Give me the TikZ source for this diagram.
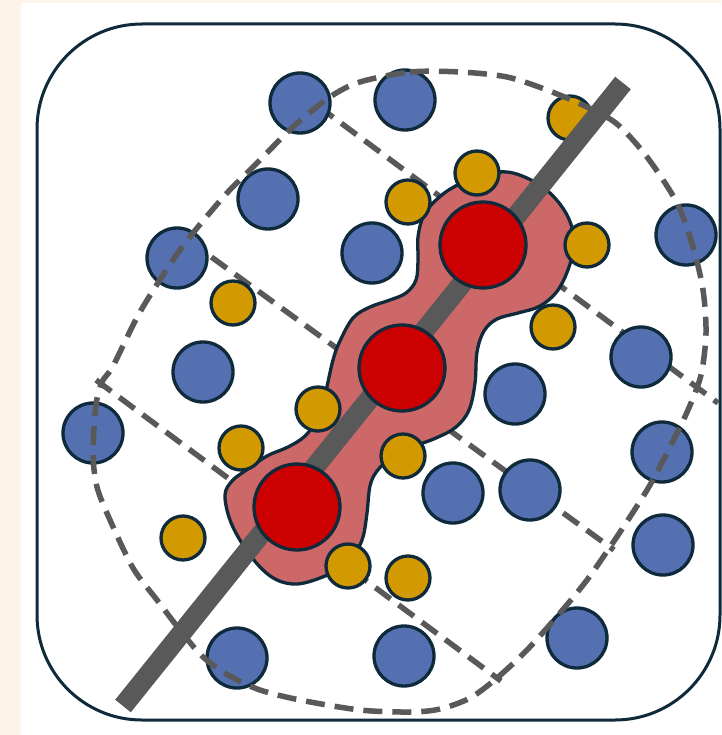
\documentclass[tikz,border=0pt]{standalone}
\usepackage{tikz}

\definecolor{cream}{HTML}{FCF4E8}
\definecolor{navy}{HTML}{0E2A3B}
\definecolor{dotblue}{HTML}{5470B0}
\definecolor{dotgold}{HTML}{D29A00}
\definecolor{dotred}{HTML}{CC0000}
\definecolor{blobred}{HTML}{CD6868}
\definecolor{axisgray}{HTML}{595959}

\begin{document}
\begin{tikzpicture}[x=1pt,y=-1pt,
        blue dot/.style={circle,draw=navy,line width=3.3pt,fill=dotblue,minimum size=60pt,inner sep=0pt},
        gold dot/.style={circle,draw=navy,line width=3.3pt,fill=dotgold,minimum size=44pt,inner sep=0pt},
        red dot/.style={circle,draw=navy,line width=3.3pt,fill=dotred,minimum size=86pt,inner sep=0pt},
        cut/.style={draw=axisgray,line width=5.5pt,dash pattern=on 19pt off 10pt}]
        \useasboundingbox (0,0) rectangle (721,735);
        \fill [cream] (0,0) rectangle (721,735);
        \fill [white] (21,3) rectangle (721,735);
        \draw [navy,line width=3pt,rounded corners=105pt] (37,24) rectangle (720,720);
        % cuts inside the region
        \draw [cut] (318,106) -- (718,403);
        \draw [cut] (188,240) -- (614,550);
        \draw [cut] (96,380) -- (501,681);
        % blob round the red dots
        \draw [navy,line width=3.3pt,fill=blobred] plot [smooth cycle,tension=0.6] coordinates {
            (433,203) (452,188) (480,176) (507,172) (533,181) (553,196) (568,217) (574,240)
            (570,264) (558,290) (540,306) (518,313) (497,319) (484,331) (477,352) (475,383)
            (469,410) (456,427) (436,438) (410,448) (390,459) (377,471) (370,486) (367,513)
            (363,537) (355,553) (340,568) (320,578) (297,584) (277,580) (260,567) (243,545)
            (230,520) (225,495) (232,481) (245,471) (267,456) (288,447) (305,436) (318,418)
            (325,395) (333,360) (340,341) (353,318) (370,307) (390,300) (406,293) (416,280)
            (418,260) (418,237) (423,217)};
        \foreach \x/\y [count=\i] in {300/103, 405/100, 268/199, 177/258, 372/253, 686/235,
            203/372, 93/433, 515/394, 641/357, 453/493, 530/490, 662/452, 663/545, 577/638,
            404/656, 237/658}
            \node [blue dot] (b\i) at (\x,\y) {};
        \foreach \x/\y [count=\i] in {570/118, 477/173, 408/202, 587/245, 553/327, 233/303,
            318/409, 241/448, 183/538, 403/456, 348/566, 408/578}
            \node [gold dot] (g\i) at (\x,\y) {};
        % outer boundary
        \draw [cut] plot [smooth cycle,tension=0.5] coordinates {
            (360,82) (410,72) (460,72) (507,77) (547,90) (587,107) (617,124) (647,157)
            (677,203) (693,247) (703,290) (706,333) (701,375) (688,410) (670,447) (650,485)
            (628,520) (610,547) (587,580) (560,613) (527,650) (497,678) (470,698) (440,709)
            (410,712) (360,710) (300,700) (260,690) (230,676) (203,657) (180,630) (157,600)
            (133,568) (110,520) (97,487) (93,453) (96,405) (102,382) (113,366) (140,312)
            (173,260) (193,233) (227,193) (253,167) (293,127) (330,97)};
        \coordinate (axis top) at (623,83);
        \coordinate (axis end) at (123,706);
        \draw [axisgray,line width=20pt] (axis top) -- (axis end);
        \node [red dot] (r1) at (483,245) {};
        \node [red dot] (r2) at (402,368) {};
        \node [red dot] (r3) at (297,507) {};
    \end{tikzpicture}
\end{document}
